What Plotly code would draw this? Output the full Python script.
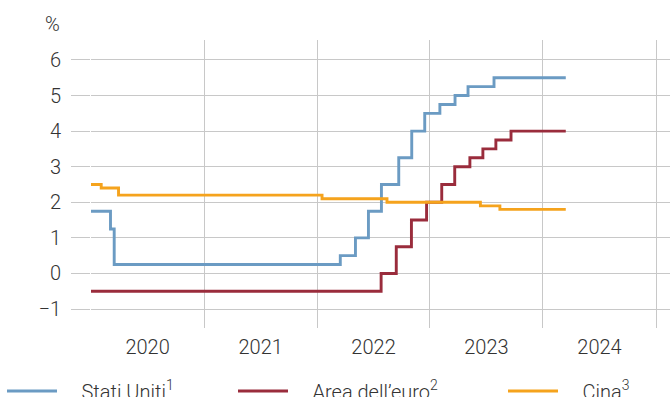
import plotly.graph_objects as go

# Data
us_dates = ["2020-01-01", "2020-03-04", "2020-03-16", "2022-03-17", "2022-05-05", "2022-06-16",
            "2022-07-28", "2022-09-22", "2022-11-03", "2022-12-15", "2023-02-02", "2023-03-23",
            "2023-05-04", "2023-07-27", "2024-03-15"]
us_values = [1.75, 1.25, 0.25, 0.50, 1.00, 1.75, 2.50, 3.25, 4.00, 4.50, 4.75, 5.00, 5.25, 5.50, 5.50]

ea_dates = ["2020-01-01", "2022-07-27", "2022-09-14", "2022-11-02", "2022-12-21", "2023-02-08",
            "2023-03-22", "2023-05-10", "2023-06-21", "2023-08-02", "2023-09-20", "2024-03-15"]
ea_values = [-0.5, 0.0, 0.75, 1.5, 2.0, 2.5, 3.0, 3.25, 3.5, 3.75, 4.0, 4.0]

cn_dates = ["2020-01-01", "2020-02-03", "2020-03-30", "2022-01-17", "2022-08-15", "2023-06-13",
            "2023-08-15", "2024-03-15"]
cn_values = [2.5, 2.4, 2.2, 2.1, 2.0, 1.9, 1.8, 1.8]

names = ["Stati Uniti<sup>1</sup>", "Area dell\u2019euro<sup>2</sup>", "Cina<sup>3</sup>"]
colors = ["#6b9bc3", "#9a2c3c", "#f5a31d"]
y_ticks = [-1, 0, 1, 2, 3, 4, 5, 6]

FONT = "Roboto"
TXT = "#333333"
GRID = "#c8c8c8"
FS = 20

fig = go.Figure()
series = [(us_dates, us_values), (ea_dates, ea_values), (cn_dates, cn_values)]
legends = ["legend", "legend2", "legend3"]
PAD = "\u00a0" * 4
for (d, v), n, c, lg in zip(series, names, colors, legends):
    fig.add_trace(go.Scatter(x=d, y=v, mode="lines", name=PAD + n,
                             line=dict(color=c, width=2.9, shape="hv"),
                             legend=lg, hoverinfo="skip"))

leg_common = dict(orientation="h", xref="container", yref="container", yanchor="middle", y=0.015,
                  xanchor="left", font=dict(family=FONT, size=FS, color=TXT, weight=300),
                  bgcolor="rgba(0,0,0,0)", borderwidth=0, itemwidth=50)

fig.update_layout(
    width=670, height=397,
    margin=dict(l=91, r=0, t=40, b=69),
    paper_bgcolor="white", plot_bgcolor="white",
    font=dict(family=FONT, size=FS, color=TXT, weight=300),
    showlegend=True,
    legend=dict(**leg_common, x=2 / 670),
    legend2=dict(**leg_common, x=233 / 670),
    legend3=dict(**leg_common, x=503 / 670),
    xaxis=dict(
        type="date", range=["2020-01-01", "2025-02-15"],
        tick0="2020-01-01", dtick="M12", tickformat="%Y", ticklabelmode="period",
        showgrid=True, gridcolor=GRID, gridwidth=1, zeroline=False, showline=False,
        ticks="", ticklabelstandoff=5, tickfont=dict(family=FONT, size=FS, color=TXT, weight=300),
    ),
    yaxis=dict(
        range=[-1.534, 6.562], tickvals=y_ticks, showgrid=True, gridcolor=GRID, gridwidth=1,
        zeroline=False, showline=False, ticks="outside", ticklen=19, tickcolor=GRID, tickwidth=1,
        ticklabelstandoff=6, tickfont=dict(family=FONT, size=FS, color=TXT, weight=300),
    ),
    annotations=[dict(text="%", xref="paper", yref="paper", x=(53 - 91) / 579, y=(328 - 24) / 288,
                      showarrow=False, xanchor="center", yanchor="middle",
                      font=dict(family=FONT, size=FS, color=TXT, weight=300))],
)

fig.write_html("out.html")
